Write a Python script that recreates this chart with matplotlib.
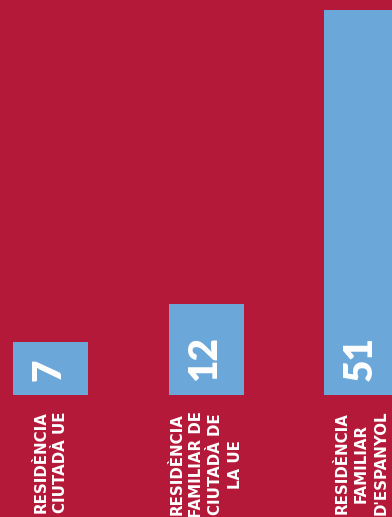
import matplotlib
matplotlib.use('Agg')
import matplotlib.pyplot as plt

# residence permits by type
categories = ["RESIDÈNCIA\nCIUTADÀ UE",
              "RESIDÈNCIA\nFAMILIAR DE\nCIUTADÀ DE\nLA UE",
              "RESIDÈNCIA\nFAMILIAR\nD'ESPANYOL"]
values = [7, 12, 51]

bg = "#B5193A"
bar_col = "#6CA7DA"

fig = plt.figure(figsize=(3.92, 5.17), dpi=100, facecolor=bg)
ax = fig.add_axes([0, 122 / 517, 1, 395 / 517])
ax.set_facecolor(bg)

xs = list(range(len(values)))
ax.bar(xs, values, width=0.482, color=bar_col)
ax.set_xlim(-0.325, 2.196)
ax.set_ylim(0, 51 * 395 / 385)
ax.axis('off')

for x, v, lab in zip(xs, values, categories):
    # value inside the bar, rotated
    ax.annotate(str(v), (x, 0), xytext=(-1, 10), textcoords='offset points',
                rotation=90, ha='center', va='bottom', color='white',
                fontsize=28, fontweight='heavy', family='Lato')
    # category label under the bar
    ax.annotate(lab, (x, 0), xytext=(0, -11.5), textcoords='offset points',
                rotation=90, ha='center', va='top', multialignment='center',
                color='white', fontsize=10.8, fontweight='bold',
                family='DejaVu Sans', linespacing=1.38, annotation_clip=False)

fig.savefig("out.png", dpi=100, facecolor=bg)
